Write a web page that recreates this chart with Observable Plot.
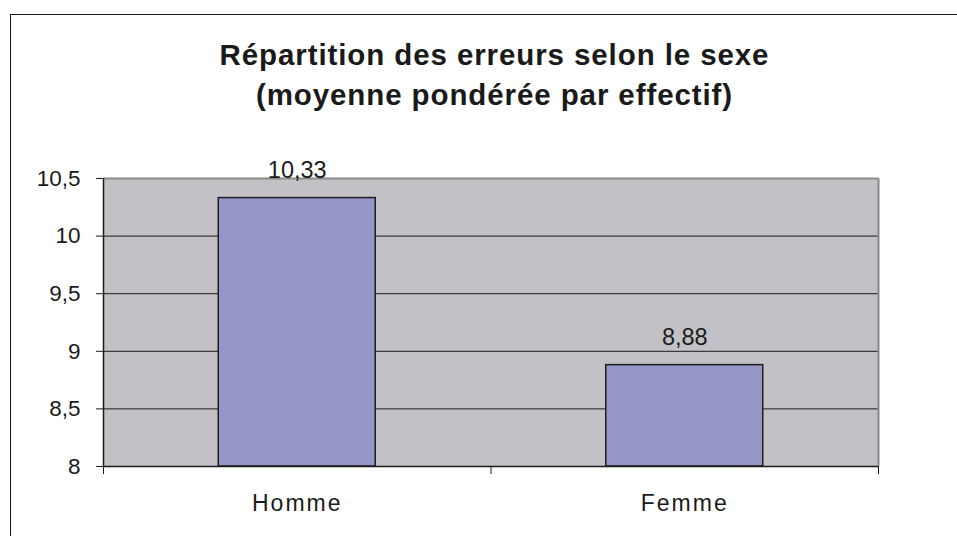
<!DOCTYPE html>
<html>
<head>
<meta charset="utf-8">
<script src="https://cdn.jsdelivr.net/npm/d3@7"></script>
<script src="https://cdn.jsdelivr.net/npm/@observablehq/plot@0.6"></script>
<style>
  html, body { margin: 0; padding: 0; background: #fff; }
  #wrap { position: relative; width: 957px; height: 536px; overflow: hidden; }
  #frame { position: absolute; left: 10px; top: 14px; width: 2000px; height: 2000px;
           border-left: 1.5px solid #1a1a1a; border-top: 1.5px solid #1a1a1a; }
  #title { position: relative; margin-top: 35px; padding-left: 32px; width: 925px; height: 80px;
           text-align: center; font-family: "Liberation Sans", Arial, sans-serif;
           font-weight: bold; font-size: 29.5px; line-height: 40px; letter-spacing: 0.9px;
           color: #1a1a1a; }
  #chart { position: relative; }
  g[aria-description="categories"] text { letter-spacing: 2px; }
</style>
</head>
<body>
<div id="wrap">
  <div id="frame"></div>
  <div id="title">Répartition des erreurs selon le sexe<br>(moyenne pondérée par effectif)</div>
  <div id="chart"></div>
</div>
<script>
const categories = ["Homme", "Femme"];
const values = [10.33, 8.88];
const yTicks = [8, 8.5, 9, 9.5, 10, 10.5];

const data = categories.map((c, i) => ({ category: c, index: i, value: values[i] }));
const fmt = d => String(d).replace(".", ",");
const half = 0.2026;           // half bar width in category units
const base = yTicks[0];

const plot = Plot.plot({
  width: 957,
  height: 421,
  marginTop: 63,
  marginBottom: 70,
  marginLeft: 103,
  marginRight: 79,
  style: { fontFamily: "'Liberation Sans', Arial, sans-serif", fontSize: "22px", color: "#1a1a1a", background: "transparent" },
  x: { domain: [0, categories.length], axis: null },
  y: { domain: [yTicks[0], yTicks[yTicks.length - 1]], axis: null },
  marks: [
    Plot.frame({ fill: "#C2C2C6", stroke: null }),
    Plot.ruleY(yTicks.slice(1, -1), { stroke: "#1a1a1a", strokeWidth: 1 }),
    Plot.ruleY([yTicks[yTicks.length - 1]], { stroke: "#8a8a8a", strokeWidth: 2 }),
    Plot.ruleX([categories.length], { stroke: "#8a8a8a", strokeWidth: 2 }),
    Plot.rectY(data, {
      x1: d => d.index + 0.5 - half,
      x2: d => d.index + 0.5 + half,
      y1: () => base,
      y2: d => d.value,
      fill: "#9595C8",
      stroke: "#1e1e1e",
      strokeWidth: 1.5
    }),
    Plot.ruleY([base], { stroke: "#1a1a1a", strokeWidth: 1.5 }),
    Plot.ruleX([0], { stroke: "#1a1a1a", strokeWidth: 1.5 }),
    Plot.axisY({ ticks: yTicks, tickFormat: fmt, tickSize: 7, tickPadding: 16, fontSize: 22.5, stroke: "#1a1a1a" }),
    Plot.axisX({ ticks: d3.range(categories.length + 1), tickFormat: () => "", tickSize: 8, stroke: "#1a1a1a" }),
    Plot.text(data, {
      x: d => d.index + 0.5,
      y: d => d.value,
      text: d => d.value.toFixed(2).replace(".", ","),
      dy: -20,
      lineAnchor: "bottom",
      fontSize: 23.5,
      fill: "#1a1a1a"
    }),
    Plot.text(data, {
      x: d => d.index + 0.5,
      y: () => base,
      text: d => d.category,
      dy: 44,
      lineAnchor: "bottom",
      fontSize: 23,
      fill: "#1a1a1a",
      ariaDescription: "categories"
    })
  ]
});
document.getElementById("chart").appendChild(plot);
</script>
</body>
</html>
